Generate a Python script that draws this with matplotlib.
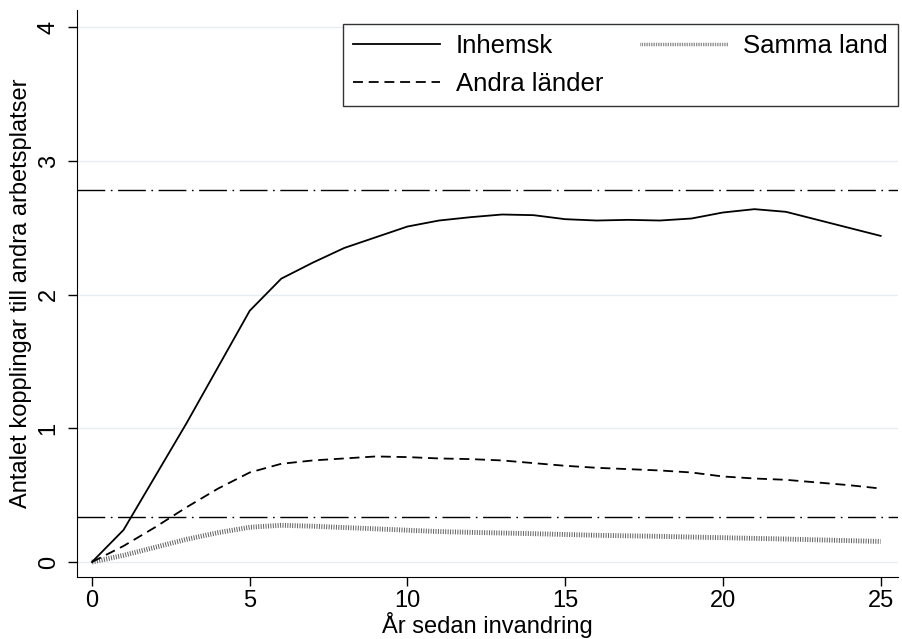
import matplotlib
matplotlib.use("Agg")
import matplotlib.pyplot as plt

plt.rcParams['font.family'] = ['Liberation Sans', 'DejaVu Sans']

years = list(range(26))
inhemsk = [0.0, 0.24, 0.64, 1.04, 1.46, 1.88, 2.12, 2.24, 2.35, 2.43, 2.51, 2.555, 2.58,
           2.60, 2.595, 2.565, 2.555, 2.56, 2.555, 2.57, 2.615, 2.64, 2.62, 2.56, 2.50, 2.44]
andra = [0.0, 0.12, 0.26, 0.41, 0.55, 0.67, 0.735, 0.76, 0.775, 0.79, 0.785, 0.775, 0.77,
         0.76, 0.74, 0.72, 0.705, 0.695, 0.685, 0.67, 0.64, 0.625, 0.615, 0.595, 0.575, 0.55]
samma = [0.0, 0.05, 0.11, 0.17, 0.22, 0.26, 0.275, 0.268, 0.258, 0.248, 0.238, 0.228, 0.222,
         0.217, 0.212, 0.206, 0.2, 0.196, 0.192, 0.187, 0.182, 0.177, 0.172, 0.166, 0.16, 0.154]
ref_lines = [2.78, 0.336]

xticks = [0, 5, 10, 15, 20, 25]
yticks = [0, 1, 2, 3, 4]

fig = plt.figure(figsize=(9.02, 6.39), dpi=100)
ax = fig.add_axes([77/902, 62/639, (898-77)/902, (577-10)/639])

for v in yticks:
    ax.axhline(v, color='#e6eef2', lw=1, zorder=0)

for v in ref_lines:
    ax.axhline(v, color='black', lw=1.0, dashes=(20, 4, 1.2, 4), zorder=1)

ax.plot(years, inhemsk, color='black', lw=1.3, label='Inhemsk', zorder=3)
ax.plot(years, andra, color='black', lw=1.3, dashes=(5.5, 3.2), label='Andra länder', zorder=3)
ax.plot(years, samma, color='#606060', lw=3.5, dashes=(0.2, 0.3), dash_capstyle='butt',
        label='Samma land', zorder=2)

ax.set_xlim(-0.475, 25.55)
ax.set_ylim(-0.112, 4.13)
ax.set_xticks(xticks)
ax.set_yticks(yticks)
ax.tick_params(axis='both', direction='out', length=6.5, width=1, labelsize=17)
ax.tick_params(axis='x', pad=3)
ax.tick_params(axis='y', pad=6)
for lab in ax.get_yticklabels():
    lab.set_rotation(90)
    lab.set_va('center')

ax.spines['top'].set_visible(False)
ax.spines['right'].set_visible(False)

ax.set_xlabel('År sedan invandring', fontsize=17, labelpad=0)
ax.set_ylabel('Antalet kopplingar till andra arbetsplatser', fontsize=17, labelpad=4)

leg = ax.legend(ncol=2, loc='upper right', bbox_to_anchor=(1.0, 0.976), borderaxespad=0,
                fontsize=18.5, frameon=True, fancybox=False, handlelength=3.4,
                columnspacing=1.45, borderpad=0.4, labelspacing=0.55, handletextpad=0.6)
leg.get_frame().set_edgecolor('black')
leg.get_frame().set_linewidth(1.0)
leg.legend_handles[2].set_linewidth(2.5)

fig.savefig('out.png', dpi=100)
